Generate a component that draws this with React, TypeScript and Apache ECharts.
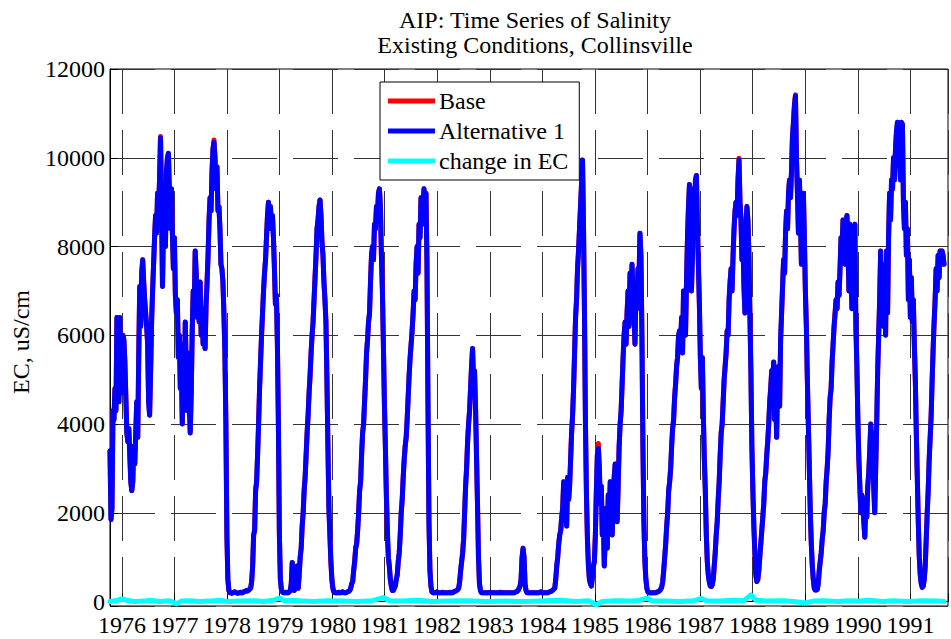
import React, { useEffect, useRef } from "react";
import * as echarts from "echarts";

// Regular sampling of the record (decimal years)
const sampleStart = 1975.774;
const sampleStep = 0.018843;

const xMin = 1975.774;
const xMax = 1991.715;
const yMin = -100;
const yMax = 12000;

const titleLines = ["AIP: Time Series of Salinity", "Existing Conditions, Collinsville"];
const yAxisTitle = "EC, uS/cm";
const seriesNames = ["Base", "Alternative 1", "change in EC"];

// Alternative 1 EC (uS/cm), one value per sample
const alternative1 = [
  3400, 1850, 2100, 4300, 4100, 4800, 4300, 6400, 5200, 4500,
  6400, 5100, 4700, 6000, 5900, 5400, 4600, 3800, 3600, 3900,
  3300, 2700, 2500, 2700, 3500, 3100, 3800, 4500, 3700, 5500,
  7100, 6200, 7400, 7700, 7200, 6800, 6500, 6200, 5800, 4500,
  4200, 5200, 6300, 7000, 7600, 8200, 8700, 8300, 9200, 8800,
  9500, 10450, 9000, 7100, 8500, 9200, 8000, 9700, 10000, 10100,
  9200, 8400, 9300, 8300, 7500, 8200, 6900, 6500, 6800, 5500,
  6000, 4800, 5300, 4000, 5800, 5000, 6300, 5200, 4300, 5600,
  4500, 3800, 4700, 6100, 7000, 6500, 7900, 7400, 6400, 7000,
  6300, 7200, 6000, 6600, 5800, 6400, 5700, 6700, 7200, 7800,
  8600, 9100, 8800, 9700, 10200, 10350, 10000, 9300, 9800, 8800,
  8900, 8400, 7600, 7500, 7200, 6500, 5600, 4000, 1500, 500,
  250, 200, 200, 190, 200, 210, 220, 200, 200, 190,
  200, 200, 210, 200, 200, 220, 230, 240, 250, 240,
  260, 280, 300, 450, 800, 1500, 1600, 2500, 2700, 3300,
  4000, 4800, 5400, 6000, 6500, 7000, 7400, 7700, 8200, 8700,
  9000, 8500, 8900, 8400, 8700, 8200, 7500, 6700, 6900, 5800,
  4000, 1500, 500, 280, 220, 200, 200, 200, 210, 200,
  200, 220, 250, 400, 880, 500, 250, 300, 650, 800,
  300, 600, 1000, 1200, 1700, 2000, 2500, 2800, 3300, 3800,
  4200, 4700, 5100, 5600, 6000, 6300, 6800, 7300, 7800, 8400,
  8600, 8900, 9050, 8700, 8100, 7800, 7200, 6800, 6300, 5000,
  3500, 2100, 1500, 900, 500, 300, 220, 200, 200, 200,
  200, 210, 200, 200, 210, 220, 200, 200, 200, 210,
  220, 230, 250, 300, 400, 450, 700, 900, 1200, 1300,
  1600, 2000, 2500, 2700, 3300, 3800, 4000, 4500, 5000, 5600,
  5900, 6300, 6500, 7200, 7800, 8000, 7700, 8500, 8400, 8900,
  8700, 9200, 9300, 8900, 7800, 7000, 5800, 4500, 3500, 2400,
  1600, 1000, 800, 500, 350, 250, 250, 300, 350, 500,
  600, 900, 1100, 1500, 2000, 2300, 2800, 3200, 3500, 3700,
  4100, 4600, 5100, 5500, 5800, 6100, 6500, 7000, 6800, 7600,
  8000, 7400, 8500, 8200, 9100, 8600, 8900, 9300, 8500, 9200,
  7600, 4500, 1800, 700, 350, 220, 200, 200, 200, 200,
  220, 200, 200, 200, 200, 200, 210, 200, 200, 200,
  200, 200, 200, 210, 200, 200, 200, 220, 230, 240,
  250, 270, 300, 450, 700, 900, 1100, 1400, 2000, 2600,
  3000, 3600, 4000, 4300, 4800, 5300, 5700, 5000, 5200, 4400,
  3300, 2200, 1000, 400, 250, 200, 200, 200, 200, 200,
  200, 200, 200, 200, 210, 200, 200, 200, 200, 200,
  200, 200, 200, 200, 210, 200, 200, 200, 200, 200,
  200, 200, 200, 200, 200, 200, 200, 200, 200, 210,
  220, 230, 250, 300, 350, 500, 1000, 1200, 1000, 400,
  250, 200, 200, 200, 200, 200, 200, 200, 200, 200,
  200, 200, 200, 200, 210, 220, 200, 200, 200, 200,
  200, 200, 200, 210, 220, 230, 240, 260, 280, 300,
  500, 800, 1000, 1300, 1500, 1600, 1900, 2100, 2700, 2000,
  2500, 1700, 2800, 2300, 2600, 3200, 3800, 4200, 4800, 5600,
  6400, 6800, 7500, 7900, 8400, 8900, 9400, 9950, 8500, 6500,
  4000, 2400, 1400, 800, 500, 400, 350, 550, 800, 900,
  1500, 2500, 3300, 3450, 3000, 2200, 2600, 1500, 2000, 800,
  1500, 2100, 1200, 2400, 1900, 2700, 2100, 1500, 2300, 2800,
  3100, 2500, 1800, 2600, 3500, 4000, 4300, 4900, 5500, 6000,
  6300, 5800, 6500, 7000, 6200, 7400, 6800, 7600, 6900, 6500,
  5800, 7000, 6600, 7500, 7200, 8300, 7800, 6000, 3500, 1800,
  900, 500, 300, 220, 200, 200, 200, 200, 200, 200,
  200, 200, 210, 220, 230, 250, 280, 330, 450, 700,
  1000, 1300, 1700, 2000, 2500, 2700, 3000, 3500, 3900, 4100,
  4600, 4900, 5300, 5500, 6000, 6100, 5700, 6400, 5600, 7000,
  6700, 6000, 7200, 8200, 8900, 9400, 8000, 7000, 7800, 9300,
  8300, 9500, 9600, 8500, 7600, 6700, 5500, 4800, 5500, 4200,
  3200, 2500, 1500, 900, 600, 450, 350, 340, 380, 500,
  800, 1100, 1500, 1800, 2300, 2700, 3300, 3800, 4000, 4500,
  5000, 5300, 5600, 6100, 6000, 6800, 7200, 7500, 7000, 7800,
  8400, 8800, 9000, 8700, 9500, 9950, 9000, 8600, 7700, 8100,
  7100, 6500, 8500, 8900, 8600, 7800, 6500, 5200, 3500, 2500,
  1700, 1100, 600, 450, 500, 700, 1000, 1300, 1600, 1900,
  2200, 2700, 2900, 3300, 3600, 4000, 4500, 4800, 5200, 4900,
  5400, 4100, 4700, 3700, 5200, 5300, 4400, 5900, 6500, 7100,
  7700, 7400, 8300, 8800, 8400, 9200, 9500, 9100, 9700, 10500,
  10800, 11200, 11390, 10000, 9200, 8300, 9500, 8700, 7600, 8800,
  9200, 8200, 7000, 6200, 5000, 4000, 3000, 2000, 1300, 800,
  500, 300, 260, 260, 270, 400, 700, 900, 1100, 1400,
  1600, 2000, 2200, 2700, 3000, 3400, 4100, 4600, 4800, 5400,
  5800, 6200, 6500, 6800, 6600, 7200, 6900, 7500, 8200, 7900,
  8600, 8300, 7600, 8500, 8700, 7900, 7000, 8500, 7400, 6600,
  8000, 7500, 8500, 6200, 5300, 4100, 3200, 2600, 2000, 2400,
  2300, 1800, 1450, 2200, 1900, 2600, 2900, 3400, 4000, 3600,
  3800, 2600, 2000, 3000, 4000, 5200, 6000, 6800, 7900, 6500,
  7600, 6200, 7300, 6000, 7900, 6500, 8200, 9200, 8600, 9500,
  9300, 10000, 9500, 10200, 10600, 10800, 9800, 10700, 9500, 10800,
  10750, 9000, 8400, 9000, 7800, 8400, 6800, 7700, 6400, 7300,
  6300, 6800, 5800, 5000, 3800, 2800, 1800, 1000, 600, 400,
  320, 350, 500, 800, 1400, 2000, 2500, 3200, 3700, 4200,
  5000, 5700, 6300, 6800, 7500, 7000, 7800, 7300, 7900, 7600,
  7900, 7800, 7600,
];

// Samples where Base differs from Alternative 1: [sample index, EC]
const baseDifferences: [number, number][] = [
  [51, 10480], [105, 10400], [493, 3560], [635, 9990], [692, 11420],
];

// change in EC (uS/cm) at selected sample indices
const changeIndex = [
  0, 8, 12, 16, 25, 35, 40, 50, 60, 67,
  72, 80, 90, 100, 110, 119, 130, 145, 155, 165,
  171, 176, 185, 195, 205, 220, 235, 250, 265, 276,
  282, 295, 310, 325, 340, 360, 380, 400, 420, 440,
  455, 470, 483, 491, 497, 510, 525, 535, 542, 547,
  560, 575, 590, 597, 602, 615, 630, 640, 647, 652,
  665, 680, 690, 702, 710, 720, 735, 745, 755, 765,
  780, 790, 805, 820, 835, 842,
];
const changeValues = [
  0, 30, 60, 30, 0, 10, 30, 0, 20, -50,
  10, 20, 0, 10, 30, 0, 10, 20, 0, 30,
  80, 20, 30, 10, 0, 20, 10, 0, 20, 90,
  20, 10, 30, 0, 10, 20, 0, 10, 0, 20,
  30, 0, 20, -70, 0, 20, 10, 30, 80, 20,
  10, 0, 20, 70, 20, 10, 30, 20, 150, 30,
  10, 20, 0, -30, 10, 20, 0, 20, 10, 30,
  0, 20, 0, 20, 10, 0,
];

const FONT = '"Liberation Serif", "Times New Roman", serif';

export default function App() {
  const ref = useRef<HTMLDivElement>(null);

  useEffect(() => {
    if (!ref.current) return;
    const chart = echarts.init(ref.current, undefined, { renderer: "svg" });

    const timeOf = (i: number) => sampleStart + i * sampleStep;
    const altData = alternative1.map((v, i) => [timeOf(i), v]);
    const baseMap = new Map(baseDifferences);
    const baseData = alternative1.map((v, i) => [timeOf(i), baseMap.has(i) ? baseMap.get(i) : v]);
    const changeData = changeIndex.map((idx, k) => [timeOf(idx), changeValues[k]]);

    const gridLine = { show: true, lineStyle: { color: "#333333", width: 1, type: [45, 16] as any } };

    chart.setOption({
      animation: false,
      backgroundColor: "#ffffff",
      grid: {
        left: 110,
        right: -5,
        top: 69,
        bottom: 33,
        show: true,
        borderColor: "#000",
        borderWidth: 1,
        backgroundColor: "transparent",
        containLabel: false,
      },
      legend: {
        orient: "vertical",
        left: 380,
        top: 82,
        data: seriesNames,
        icon: "rect",
        itemWidth: 47,
        itemHeight: 5,
        itemGap: 6,
        padding: [7, 11, 7, 8],
        backgroundColor: "#fff",
        borderColor: "#000",
        borderWidth: 1,
        borderRadius: 0,
        textStyle: { fontFamily: FONT, fontSize: 24, color: "#000", padding: [0, 0, 0, -1] },
      },
      xAxis: {
        type: "value",
        min: xMin,
        max: xMax,
        minInterval: 1,
        maxInterval: 1,
        splitNumber: 16,
        axisLine: { show: true, lineStyle: { color: "#000", width: 1 } },
        axisTick: { show: true, inside: true, length: 8, lineStyle: { color: "#000" } },
        axisLabel: {
          fontFamily: FONT,
          fontSize: 24,
          color: "#000",
          margin: 7,
          formatter: (v: number) => (Math.abs(v - Math.round(v)) < 1e-6 ? String(Math.round(v)) : ""),
        },
        splitLine: gridLine,
      },
      yAxis: {
        type: "value",
        min: yMin,
        max: yMax,
        splitNumber: 6,
        minInterval: 2000,
        maxInterval: 2000,
        axisLine: { show: true, lineStyle: { color: "#000", width: 1 } },
        axisTick: { show: true, inside: true, length: 8, lineStyle: { color: "#000" } },
        axisLabel: {
          fontFamily: FONT,
          fontSize: 24,
          color: "#000",
          margin: 5,
          formatter: (v: number) => (v < 0 ? "" : String(Math.round(v))),
        },
        splitLine: gridLine,
      },
      graphic: [
        {
          type: "text",
          x: 535,
          y: 20,
          style: { text: titleLines[0], font: `24px ${FONT}`, fill: "#000", textAlign: "center", textVerticalAlign: "middle" },
        },
        {
          type: "text",
          x: 535,
          y: 45,
          style: { text: titleLines[1], font: `24px ${FONT}`, fill: "#000", textAlign: "center", textVerticalAlign: "middle" },
        },
        {
          type: "text",
          x: 21,
          y: 342,
          rotation: Math.PI / 2,
          style: { text: yAxisTitle, font: `24px ${FONT}`, fill: "#000", textAlign: "center", textVerticalAlign: "middle" },
        },
      ],
      series: [
        {
          name: seriesNames[0],
          type: "line",
          data: baseData,
          showSymbol: false,
          symbol: "none",
          lineStyle: { color: "#ff0000", width: 5, join: "round", cap: "round" },
          itemStyle: { color: "#ff0000" },
          z: 2,
        },
        {
          name: seriesNames[1],
          type: "line",
          data: altData,
          showSymbol: false,
          symbol: "none",
          lineStyle: { color: "#0000ff", width: 5, join: "round", cap: "round" },
          itemStyle: { color: "#0000ff" },
          z: 3,
        },
        {
          name: seriesNames[2],
          type: "line",
          data: changeData,
          showSymbol: false,
          symbol: "none",
          lineStyle: { color: "#00ffff", width: 5, join: "round", cap: "round" },
          itemStyle: { color: "#00ffff" },
          z: 4,
        },
      ],
    });

    return () => chart.dispose();
  }, []);

  return (
    <div
      ref={ref}
      style={{ position: "fixed", left: 0, top: 0, width: 951, height: 639, background: "#fff" }}
    />
  );
}
